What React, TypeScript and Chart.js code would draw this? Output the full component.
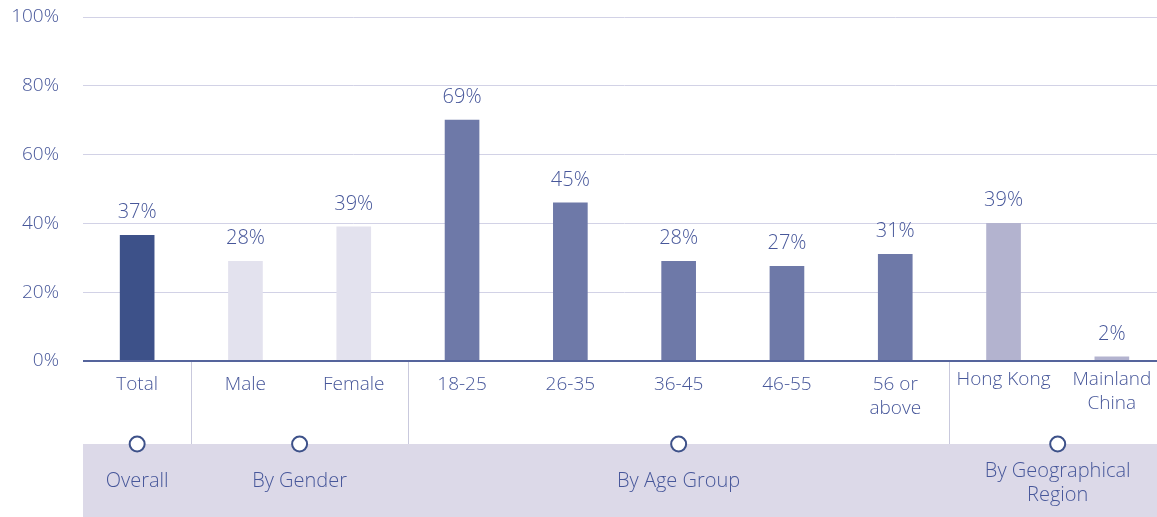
import React, { useEffect, useRef } from "react";
import { Chart, registerables } from "chart.js";

Chart.register(...registerables);

// ---- Data ----
const categories: string[][] = [
  ["Total"],
  ["Male"],
  ["Female"],
  ["18-25"],
  ["26-35"],
  ["36-45"],
  ["46-55"],
  ["56 or", "above"],
  ["Hong Kong"],
  ["Mainland", "China"],
];
const barValues = [36.5, 29, 39, 70, 46, 29, 27.5, 31, 40, 1.2];
const valueLabels = ["37%", "28%", "39%", "69%", "45%", "28%", "27%", "31%", "39%", "2%"];
const groupNames: string[][] = [["Overall"], ["By Gender"], ["By Age Group"], ["By Geographical", "Region"]];
const groupSizes = [1, 2, 5, 2];
const groupColors = ["#3d5189", "#e3e2ee", "#6e79a8", "#b3b3cf"];
const yTickValues = [0, 20, 40, 60, 80, 100];

const TEXT = "#47579a";
const FONT = "'Open Sans', 'Liberation Sans', Arial, sans-serif";
const W8 = "300";

function groupIndexOf(i: number): number {
  let acc = 0;
  for (let g = 0; g < groupSizes.length; g++) {
    acc += groupSizes[g];
    if (i < acc) return g;
  }
  return groupSizes.length - 1;
}

const barColors = categories.map((_, i) => groupColors[groupIndexOf(i)]);

const overlayPlugin = {
  id: "overlay",
  afterDatasetsDraw(chart: any) {
    const ctx = chart.ctx as CanvasRenderingContext2D;
    const area = chart.chartArea;
    const xs = chart.scales.x;
    const W = chart.width;
    const H = chart.height;
    const bottom = area.bottom;
    const bandTop = bottom + 83;

    ctx.save();
    // value labels
    const meta = chart.getDatasetMeta(0);
    ctx.fillStyle = TEXT;
    ctx.font = `${W8} 20px ${FONT}`;
    ctx.textAlign = "center";
    ctx.textBaseline = "alphabetic";
    meta.data.forEach((el: any, i: number) => {
      ctx.fillText(valueLabels[i], el.x, el.y - 17);
    });

    // band
    ctx.fillStyle = "#dcd9e8";
    ctx.fillRect(area.left, bandTop, W - area.left, H - bandTop);

    // separators
    ctx.strokeStyle = "#c9c9dd";
    ctx.lineWidth = 1;
    let acc = 0;
    for (let g = 0; g < groupSizes.length - 1; g++) {
      acc += groupSizes[g];
      const x = Math.round((xs.getPixelForValue(acc - 1) + xs.getPixelForValue(acc)) / 2) + 0.5;
      ctx.beginPath();
      ctx.moveTo(x, bottom);
      ctx.lineTo(x, bandTop);
      ctx.stroke();
    }

    // zero axis line
    ctx.strokeStyle = "#55649c";
    ctx.lineWidth = 2;
    ctx.beginPath();
    ctx.moveTo(area.left, bottom);
    ctx.lineTo(W, bottom);
    ctx.stroke();

    // category labels
    ctx.fillStyle = TEXT;
    ctx.font = `${W8} 19px ${FONT}`;
    ctx.textBaseline = "middle";
    categories.forEach((lines, i) => {
      const x = xs.getPixelForValue(i);
      const g = groupIndexOf(i);
      const y0 = bottom + (g === 3 ? 19 : 24);
      lines.forEach((ln, k) => ctx.fillText(ln, x, y0 + k * 24));
    });

    // circles and group labels
    ctx.font = `${W8} 20px ${FONT}`;
    let start = 0;
    groupSizes.forEach((n, g) => {
      const x1 = xs.getPixelForValue(start);
      const x2 = xs.getPixelForValue(start + n - 1);
      const cx = (x1 + x2) / 2;
      start += n;
      ctx.beginPath();
      ctx.arc(cx, bandTop, 7.5, 0, Math.PI * 2);
      ctx.fillStyle = "#ffffff";
      ctx.fill();
      ctx.strokeStyle = "#3d5189";
      ctx.lineWidth = 2;
      ctx.stroke();
      const lines = groupNames[g];
      ctx.fillStyle = TEXT;
      const yc = lines.length === 1 ? bottom + 120 : bottom + 110;
      lines.forEach((ln, k) => ctx.fillText(ln, cx, yc + k * 24));
    });
    ctx.restore();
  },
};

export default function App() {
  const canvasRef = useRef<HTMLCanvasElement | null>(null);

  useEffect(() => {
    const canvas = canvasRef.current;
    if (!canvas) return;
    const chart = new Chart(canvas, {
      type: "bar",
      data: {
        labels: categories.map((c) => c.join(" ")),
        datasets: [
          {
            data: barValues,
            backgroundColor: barColors,
            barThickness: 34,
          },
        ],
      },
      options: {
        animation: false,
        responsive: false,
        devicePixelRatio: 1,
        layout: { padding: { top: 17, right: 0, bottom: 0, left: 0 } },
        plugins: {
          legend: { display: false },
          tooltip: { enabled: false },
        },
        scales: {
          x: {
            grid: { display: false },
            border: { display: false },
            ticks: { display: false },
            afterFit: (scale: any) => {
              scale.height = 156;
              scale.paddingLeft = 0;
              scale.paddingRight = 0;
              scale.paddingTop = 0;
              scale.paddingBottom = 0;
            },
          },
          y: {
            min: 0,
            max: 100,
            afterBuildTicks: (scale: any) => {
              scale.ticks = yTickValues.map((v) => ({ value: v }));
            },
            ticks: {
              callback: (v: any) => `${v}%`,
              color: TEXT,
              font: { family: FONT, size: 19, weight: W8 as any },
              padding: 24,
            },
            grid: {
              color: (c: any) => (c.tick && c.tick.value === 0 ? "rgba(0,0,0,0)" : "#d2d2e6"),
              lineWidth: 1,
              drawTicks: false,
            },
            border: { display: false },
            afterFit: (scale: any) => {
              scale.width = 83;
              scale.paddingTop = 0;
              scale.paddingBottom = 0;
              scale.paddingLeft = 0;
              scale.paddingRight = 0;
            },
          },
        },
      },
      plugins: [overlayPlugin],
    });
    return () => chart.destroy();
  }, []);

  return (
    <div
      style={{
        position: "fixed",
        left: 0,
        top: 0,
        width: 1157,
        height: 517,
        overflow: "hidden",
        background: "#ffffff",
      }}
    >
      <canvas ref={canvasRef} width={1166} height={517} style={{ display: "block" }} />
    </div>
  );
}
